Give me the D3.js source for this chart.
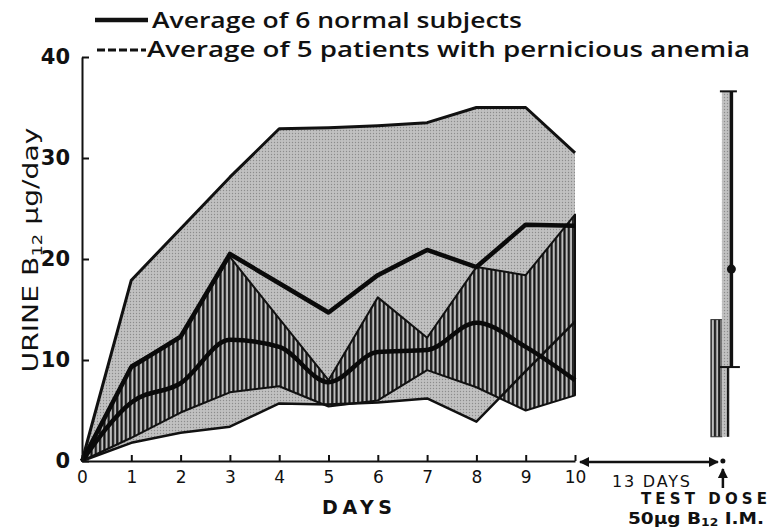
<!DOCTYPE html>
<html>
<head>
<meta charset="utf-8">
<title>Urine B12 after test dose</title>
<script src="https://d3js.org/d3.v7.min.js"></script>
<style>
  body { margin: 0; background: #fff; }
  svg text { font-family: 'DejaVu Sans', sans-serif; fill: #111; }
  .legend text { font-family: 'Open Sans', sans-serif; font-weight: 600; }
</style>
</head>
<body>
<div id="chart"></div>
<script>
var width = 769, height = 531;

// days 0..10 of daily oral B12
var days = [0, 1, 2, 3, 4, 5, 6, 7, 8, 9, 10];
// normal subjects: range and average
var normalHigh = [0, 17.9, 23.0, 28.1, 32.9, 33.0, 33.2, 33.5, 35.0, 35.0, 30.5];
var normalLow  = [0, 1.8, 2.8, 3.4, 5.7, 5.6, 5.8, 6.2, 3.9, 8.9, 13.8];
var normalMean = [0, 9.3, 12.3, 20.5, 17.6, 14.7, 18.4, 20.9, 19.2, 23.4, 23.3];
// pernicious anemia patients: range and average
var patientHigh = [0, 9.5, 12.3, 20.2, 14.1, 8.0, 16.2, 12.2, 19.2, 18.4, 24.4];
var patientLow  = [0, 2.3, 4.8, 6.8, 7.4, 5.4, 6.0, 9.0, 7.3, 5.0, 6.5];
var patientMean = [0, 5.8, 7.7, 12.0, 11.3, 7.8, 10.8, 11.0, 13.7, 11.3, 8.0];
// test dose, 13 days after day 10
var doseDay = 13;
var normalDose = { low: 9.3, mean: 19.0, high: 36.6 };
var patientDose = { low: 2.4, high: 14.0 };
var yTicks = [0, 10, 20, 30, 40];

var svg = d3.select("#chart").append("svg").attr("width", width).attr("height", height);

var x = d3.scaleLinear().domain([0, 10]).range([82, 575]);
var y = d3.scaleLinear().domain([0, 40]).range([461, 57]);

// fills: stippled grey and vertical hatching
var defs = svg.append("defs");
var stip = defs.append("pattern").attr("id", "stipple").attr("patternUnits", "userSpaceOnUse")
  .attr("width", 3).attr("height", 3);
stip.append("rect").attr("width", 3).attr("height", 3).attr("fill", "#c1c1c1");
stip.append("circle").attr("cx", 1.5).attr("cy", 1.5).attr("r", 0.7).attr("fill", "#8c8c8c");
var hatch = defs.append("pattern").attr("id", "hatch").attr("patternUnits", "userSpaceOnUse")
  .attr("width", 4.3).attr("height", 10);
hatch.append("rect").attr("width", 4.3).attr("height", 10).attr("fill", "#bdbdbd");
hatch.append("line").attr("x1", 1.2).attr("x2", 1.2).attr("y1", 0).attr("y2", 10)
  .attr("stroke", "#151515").attr("stroke-width", 2.2);

var rows = days.map(function(d, i) {
  return { day: d, nh: normalHigh[i], nl: normalLow[i], nm: normalMean[i],
           ph: patientHigh[i], pl: patientLow[i], pm: patientMean[i] };
});

var area = function(lo, hi) {
  return d3.area().x(function(d) { return x(d.day); })
    .y0(function(d) { return y(d[lo]); }).y1(function(d) { return y(d[hi]); });
};
var line = function(k, curve) {
  return d3.line().x(function(d) { return x(d.day); }).y(function(d) { return y(d[k]); })
    .curve(curve || d3.curveLinear);
};

svg.append("path").datum(rows).attr("d", area("nl", "nh")).attr("fill", "url(#stipple)");
svg.append("path").datum(rows).attr("d", area("pl", "ph")).attr("fill", "url(#hatch)")
  .attr("stroke", "#111").attr("stroke-width", 2).attr("stroke-linejoin", "round");

svg.append("path").datum(rows).attr("d", line("nh")).attr("fill", "none")
  .attr("stroke", "#111").attr("stroke-width", 3).attr("stroke-linejoin", "round");
svg.append("path").datum(rows).attr("d", line("nl")).attr("fill", "none")
  .attr("stroke", "#111").attr("stroke-width", 2.5).attr("stroke-linejoin", "round");
svg.append("path").datum(rows).attr("d", line("nm")).attr("fill", "none")
  .attr("stroke", "#0a0a0a").attr("stroke-width", 4.5).attr("stroke-linejoin", "round");
svg.append("path").datum(rows).attr("d", line("pm", d3.curveMonotoneX)).attr("fill", "none")
  .attr("stroke", "#0a0a0a").attr("stroke-width", 4.5);

// axes
var xAxis = svg.append("g").attr("transform", "translate(0," + y(0) + ")")
  .call(d3.axisBottom(x).tickValues(days).tickSize(-6).tickPadding(10).tickSizeOuter(0));
var yAxis = svg.append("g").attr("transform", "translate(" + x(0) + ",0)")
  .call(d3.axisLeft(y).tickValues(yTicks).tickSize(-7).tickPadding(10).tickSizeOuter(0));
[xAxis, yAxis].forEach(function(g) {
  g.select(".domain").attr("stroke", "#111").attr("stroke-width", 2);
  g.selectAll(".tick line").attr("stroke", "#111").attr("stroke-width", 2);
});
xAxis.selectAll(".tick text").attr("font-size", 17).attr("font-family", "DejaVu Sans").attr("fill", "#111");
yAxis.selectAll(".tick text").attr("font-size", 21).attr("font-weight", "bold")
  .attr("font-family", "DejaVu Sans").attr("fill", "#111").attr("dx", -2);

svg.append("text").attr("x", 357).attr("y", 514).attr("text-anchor", "middle")
  .attr("font-size", 19).attr("font-weight", "bold").attr("textLength", 70).text("DAYS");

svg.append("text").attr("transform", "translate(38,250) rotate(-90)").attr("text-anchor", "middle")
  .attr("font-size", 22).attr("textLength", 245).attr("lengthAdjust", "spacingAndGlyphs")
  .html('URINE B<tspan font-size="14" dy="4">12</tspan><tspan dy="-4"> µg/day</tspan>');

// test dose columns
var xd = x(doseDay);
svg.append("rect").attr("x", xd - 12).attr("width", 11)
  .attr("y", y(patientDose.high)).attr("height", y(patientDose.low) - y(patientDose.high))
  .attr("fill", "url(#hatch)").attr("stroke", "#333").attr("stroke-width", 1);
svg.append("rect").attr("x", xd - 1).attr("width", 8)
  .attr("y", y(normalDose.high)).attr("height", y(patientDose.low) - y(normalDose.high))
  .attr("fill", "url(#stipple)");
svg.append("line").attr("x1", xd + 8.5).attr("x2", xd + 8.5)
  .attr("y1", y(normalDose.high)).attr("y2", y(normalDose.low))
  .attr("stroke", "#111").attr("stroke-width", 3.5);
svg.append("line").attr("x1", xd + 5).attr("x2", xd + 5)
  .attr("y1", y(normalDose.low)).attr("y2", y(patientDose.low))
  .attr("stroke", "#111").attr("stroke-width", 2);
svg.append("line").attr("x1", xd - 3).attr("x2", xd + 14)
  .attr("y1", y(normalDose.high)).attr("y2", y(normalDose.high))
  .attr("stroke", "#111").attr("stroke-width", 2);
svg.append("line").attr("x1", xd - 3).attr("x2", xd + 17)
  .attr("y1", y(normalDose.low)).attr("y2", y(normalDose.low))
  .attr("stroke", "#111").attr("stroke-width", 2);
svg.append("circle").attr("cx", xd + 8.5).attr("cy", y(normalDose.mean)).attr("r", 4.5).attr("fill", "#111");

// 13 days arrow and test dose marker
defs.append("marker").attr("id", "head").attr("viewBox", "0 0 10 10").attr("refX", 9).attr("refY", 5)
  .attr("markerWidth", 4).attr("markerHeight", 4).attr("orient", "auto-start-reverse")
  .append("path").attr("d", "M0,0L10,5L0,10Z").attr("fill", "#111");
svg.append("line").attr("x1", x(10) + 5).attr("x2", xd - 5).attr("y1", y(0) + 1).attr("y2", y(0) + 1)
  .attr("stroke", "#111").attr("stroke-width", 2.5)
  .attr("marker-start", "url(#head)").attr("marker-end", "url(#head)");
svg.append("circle").attr("cx", xd).attr("cy", y(0)).attr("r", 2.5).attr("fill", "#111");
svg.append("line").attr("x1", xd).attr("x2", xd).attr("y1", 488).attr("y2", 469)
  .attr("stroke", "#111").attr("stroke-width", 2.5).attr("marker-end", "url(#head)");
svg.append("text").attr("x", (x(10) + xd) / 2 + 2).attr("y", 487).attr("text-anchor", "middle")
  .attr("font-size", 16).attr("textLength", 78).text("13 DAYS");
svg.append("text").attr("x", 704).attr("y", 504).attr("text-anchor", "middle")
  .attr("font-size", 15).attr("font-weight", "bold").attr("textLength", 126).text("TEST DOSE");
svg.append("text").attr("x", 696).attr("y", 524).attr("text-anchor", "middle")
  .attr("font-size", 15).attr("font-weight", "bold").attr("textLength", 136).attr("lengthAdjust", "spacingAndGlyphs")
  .html('50µg B<tspan font-size="10" dy="2">12</tspan><tspan dy="-2"> I.M.</tspan>');

// legend
var legend = svg.append("g").attr("class", "legend");
legend.append("line").attr("x1", 95).attr("x2", 148).attr("y1", 20).attr("y2", 20)
  .attr("stroke", "#111").attr("stroke-width", 4.5);
legend.append("line").attr("x1", 97).attr("x2", 146).attr("y1", 50).attr("y2", 50)
  .attr("stroke", "#111").attr("stroke-width", 3).attr("stroke-dasharray", "8,3");
legend.append("text").attr("x", 152).attr("y", 28).attr("font-size", 21)
  .attr("textLength", 370).attr("lengthAdjust", "spacingAndGlyphs").text("Average of 6 normal subjects");
legend.append("text").attr("x", 147).attr("y", 57).attr("font-size", 21)
  .attr("textLength", 603).attr("lengthAdjust", "spacingAndGlyphs").text("Average of 5 patients with pernicious anemia");
</script>
</body>
</html>
